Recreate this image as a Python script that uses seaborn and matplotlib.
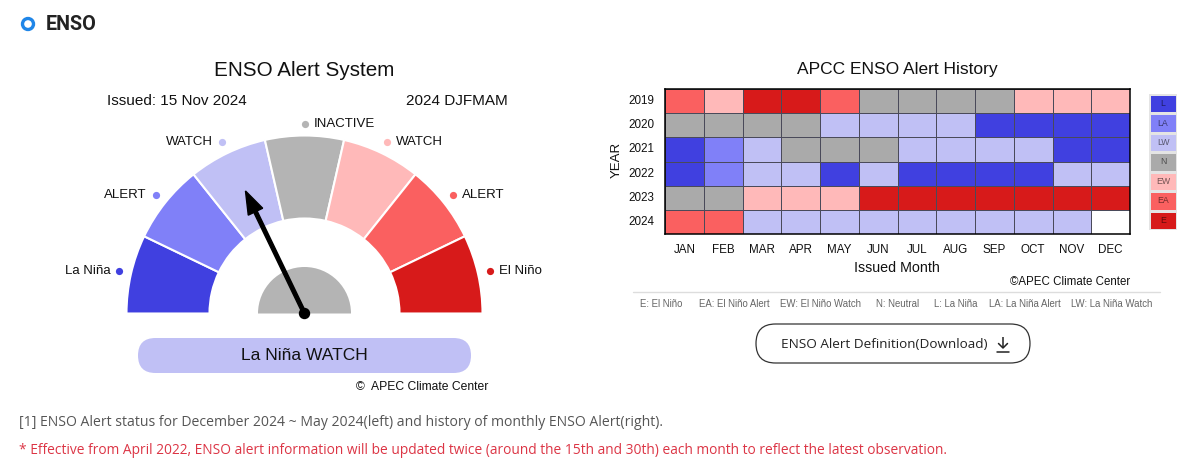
import numpy as np
import pandas as pd
import matplotlib
matplotlib.use("Agg")
import matplotlib.pyplot as plt
import seaborn as sns
from matplotlib.colors import ListedColormap
from matplotlib.patches import Wedge, Circle, FancyBboxPatch, FancyArrow

# ---------------- data ----------------
categories = ['L', 'LA', 'LW', 'N', 'EW', 'EA', 'E']
category_colors = ['#4040e0', '#8080f8', '#c0c0f5', '#aaaaaa', '#ffb9b9', '#fa6060', '#d71a1a']
gauge_labels = ['La Niña', 'ALERT', 'WATCH', 'INACTIVE', 'WATCH', 'ALERT', 'El Niño']
gauge_colors = ['#4040e0', '#8080f8', '#c0c0f5', '#b4b4b4', '#ffb9b9', '#fa6060', '#d71a1a']
current_state = 'LW'
current_label = 'La Niña WATCH'
issued_text = 'Issued: 15 Nov 2024'
season_text = '2024 DJFMAM'

years = ['2019', '2020', '2021', '2022', '2023', '2024']
months = ['JAN', 'FEB', 'MAR', 'APR', 'MAY', 'JUN', 'JUL', 'AUG', 'SEP', 'OCT', 'NOV', 'DEC']
alerts_2019 = ['EA', 'EW', 'E', 'E', 'EA', 'N', 'N', 'N', 'N', 'EW', 'EW', 'EW']
alerts_2020 = ['N', 'N', 'N', 'N', 'LW', 'LW', 'LW', 'LW', 'L', 'L', 'L', 'L']
alerts_2021 = ['L', 'LA', 'LW', 'N', 'N', 'N', 'LW', 'LW', 'LW', 'LW', 'L', 'L']
alerts_2022 = ['L', 'LA', 'LW', 'LW', 'L', 'LW', 'L', 'L', 'L', 'L', 'LW', 'LW']
alerts_2023 = ['N', 'N', 'EW', 'EW', 'EW', 'E', 'E', 'E', 'E', 'E', 'E', 'E']
alerts_2024 = ['EA', 'EA', 'LW', 'LW', 'LW', 'LW', 'LW', 'LW', 'LW', 'LW', 'LW', None]

abbreviations = ['E: El Niño', 'EA: El Niño Alert', 'EW: El Niño Watch', 'N: Neutral',
                 'L: La Niña', 'LA: La Niña Alert', 'LW: La Niña Watch']

# ---------------- setup ----------------
sns.set_style('white')
plt.rcParams['font.family'] = ['Liberation Sans', 'DejaVu Sans']

W, H = 1200, 474
fig = plt.figure(figsize=(W / 100, H / 100), dpi=100)
fig.patch.set_facecolor('white')


def px_rect(x0, y0, x1, y1):
    return [x0 / W, 1 - y1 / H, (x1 - x0) / W, (y1 - y0) / H]


ov = fig.add_axes([0, 0, 1, 1])
ov.set_xlim(0, W)
ov.set_ylim(H, 0)
ov.axis('off')

# ---------------- header ----------------
ov.add_patch(Circle((28, 24), 5.5, fill=False, edgecolor='#1f86e8', linewidth=2.4))
ov.text(46, 24.5, 'ENSO', fontsize=14.2, fontweight='bold', color='#222222',
        family=['Roboto', 'DejaVu Sans'], ha='left', va='center')

# ---------------- gauge ----------------
cx, cy = 304.5, 313.5
r_out, r_in = 178, 95
n = len(gauge_labels)
step = 180.0 / n
for i, col in enumerate(gauge_colors):
    ov.add_patch(Wedge((cx, cy), r_out, 180 + i * step, 180 + (i + 1) * step,
                       width=r_out - r_in, facecolor=col, edgecolor='white', linewidth=1.5))
    phi = np.deg2rad(180 - (i + 0.5) * step)
    dx, dy = cx + 190 * np.cos(phi), cy - 190 * np.sin(phi)
    ov.plot(dx, dy, 'o', color=col, markersize=5.2, markeredgewidth=0)
    if i < n // 2:
        ov.text(dx - 9, dy, gauge_labels[i], ha='right', va='center', fontsize=9.5, color='#111111')
    else:
        ov.text(dx + 9, dy, gauge_labels[i], ha='left', va='center', fontsize=9.5, color='#111111')

ov.add_patch(Wedge((cx, cy), 46.5, 180, 360, facecolor='#b4b4b4', edgecolor='none'))
state_idx = categories.index(current_state)
phi = np.deg2rad(180 - (state_idx + 0.5) * step)
L = 136
ov.add_patch(FancyArrow(cx, cy, L * np.cos(phi), -L * np.sin(phi), width=3.6,
                        head_width=16, head_length=23, length_includes_head=True,
                        color='black', zorder=5))
ov.add_patch(Circle((cx, cy), 5, color='black', zorder=6))

ov.text(cx, 70, 'ENSO Alert System', ha='center', va='center', fontsize=14.9, color='#111111')
ov.text(107, 101, issued_text, ha='left', va='center', fontsize=11, color='#111111')
ov.text(508, 101, season_text, ha='right', va='center', fontsize=11, color='#111111')

ov.add_patch(FancyBboxPatch((138, 338), 333, 35,
                            boxstyle='round,pad=0,rounding_size=17.5',
                            facecolor=gauge_colors[state_idx], edgecolor='none'))
ov.text(cx, 356, current_label, ha='center', va='center', fontsize=12.5, color='#111111')
ov.text(488, 387, '©  APEC Climate Center', ha='right', va='center', fontsize=8.7, color='#111111')

# ---------------- heatmap ----------------
rows = [alerts_2019, alerts_2020, alerts_2021, alerts_2022, alerts_2023, alerts_2024]
code = {c: i for i, c in enumerate(categories)}
mat = [[code[v] if v is not None else np.nan for v in row] for row in rows]
df = pd.DataFrame(mat, index=years, columns=months)
cmap = ListedColormap(category_colors)

axh = fig.add_axes(px_rect(665, 89, 1130, 234))
sns.heatmap(df, ax=axh, cmap=cmap, vmin=-0.5, vmax=len(categories) - 0.5, cbar=False,
            linewidths=0.7, linecolor='#4a4a5a')
for s in axh.spines.values():
    s.set_visible(True)
    s.set_color('black')
    s.set_linewidth(1.1)
axh.set_xlabel('')
axh.set_ylabel('')
axh.tick_params(axis='both', length=0, labelsize=8.4, colors='#111111')
axh.tick_params(axis='y', pad=8)
axh.tick_params(axis='x', pad=7)
plt.setp(axh.get_yticklabels(), rotation=0)
plt.setp(axh.get_xticklabels(), rotation=0)

ov.text(897, 69, 'APCC ENSO Alert History', ha='center', va='center', fontsize=12.5, color='#111111')
ov.text(617, 160, 'YEAR', ha='center', va='center', rotation=90, fontsize=9.5, color='#111111')
ov.text(897, 268, 'Issued Month', ha='center', va='center', fontsize=10.3, color='#111111')
ov.text(1130, 282, '©APEC Climate Center', ha='right', va='center', fontsize=8.3, color='#111111')

# legend (categorical colour key)
axl = fig.add_axes(px_rect(1149, 94, 1177, 230))
leg_df = pd.DataFrame({'k': list(range(len(categories)))}, index=categories)
sns.heatmap(leg_df, ax=axl, cmap=cmap, vmin=-0.5, vmax=len(categories) - 0.5, cbar=False,
            annot=np.array(categories).reshape(-1, 1), fmt='',
            annot_kws={'fontsize': 6.3, 'color': 'black', 'alpha': 0.55},
            linewidths=0.8, linecolor='#e4e4e4', xticklabels=False, yticklabels=False)
axl.set_xlabel('')
axl.set_ylabel('')

# separator + abbreviation line
ov.plot([633, 1160], [292, 292], color='#dddddd', linewidth=1)
abbr_x = [640, 699, 780, 876, 934, 989, 1071]
for x, t in zip(abbr_x, abbreviations):
    ov.text(x, 304, t, ha='left', va='center', fontsize=6.9, color='#666666')

# download button
ov.add_patch(FancyBboxPatch((756, 324), 274, 39, boxstyle='round,pad=0,rounding_size=19.5',
                            facecolor='white', edgecolor='#333333', linewidth=0.9))
ov.text(781, 344.5, 'ENSO Alert Definition(Download)', ha='left', va='center',
        fontsize=9.7, color='#222222', family=['Open Sans', 'DejaVu Sans'])
# download icon (glyph not available in installed fonts)
ov.plot([1003, 1003], [337, 348], color='#222222', linewidth=1.1, solid_capstyle='butt')
ov.plot([998.5, 1003, 1007.5], [343.5, 348, 343.5], color='#222222', linewidth=1.1)
ov.plot([997, 1009], [351.5, 351.5], color='#222222', linewidth=1.1)

# ---------------- footnotes ----------------
ov.text(19, 422, '[1] ENSO Alert status for December 2024 ~ May 2024(left) and history of monthly ENSO Alert(right).',
        ha='left', va='center', fontsize=10.05, color='#555555', family=['Open Sans', 'DejaVu Sans'])
ov.text(19, 451, '* Effective from April 2022, ENSO alert information will be updated twice (around the 15th and 30th) each month to reflect the latest observation.',
        ha='left', va='center', fontsize=9.9, color='#dc3545', family=['Open Sans', 'DejaVu Sans'])

fig.savefig('out.png', dpi=100, facecolor='white')
